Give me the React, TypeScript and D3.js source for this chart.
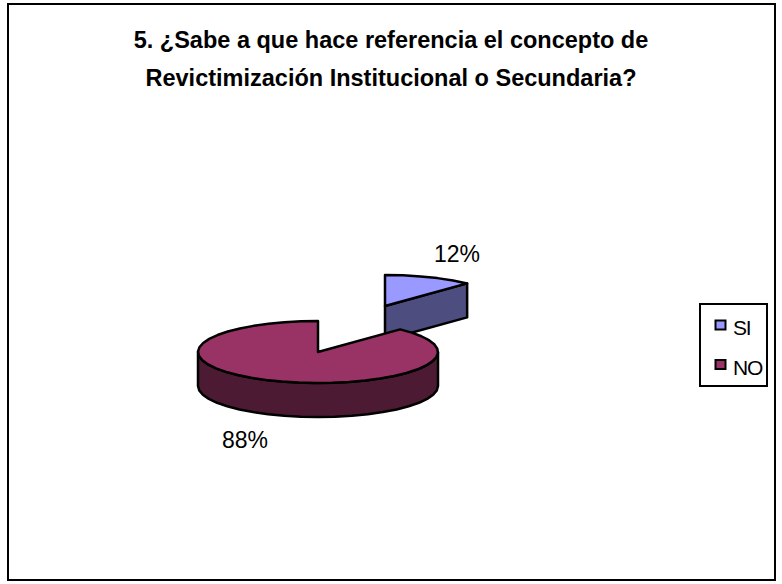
import React from "react";
import * as d3 from "d3";

const categories = ["SI", "NO"];
const values = [12, 88];
const labels = ["12%", "88%"];
const topColors = ["#9999FF", "#993366"];
const sideColors = ["#4D4D80", "#4D1A33"];
const titleLines = [
  "5. ¿Sabe a que hace referencia el concepto de",
  "Revictimización Institucional o Secundaria?",
];

const W = 782;
const H = 584;
const FONT = "'Liberation Sans', Arial, sans-serif";
const RX = 120;
const RY = 31;
const DEPTH = 34;
const centers = [
  { x: 385, y: 306 },
  { x: 318, y: 352 },
];

const pieGen = d3
  .pie<number>()
  .sort(null)
  .value((d) => d);

function ellipsePts(cx: number, cy: number, a0: number, a1: number): [number, number][] {
  const sx = d3.scaleLinear().domain([-1, 1]).range([cx - RX, cx + RX]);
  const sy = d3.scaleLinear().domain([-1, 1]).range([cy - RY, cy + RY]);
  const n = Math.max(2, Math.round(Math.abs(a1 - a0) / 0.14));
  return d3.range(n + 1).map((i) => {
    const a = a0 + ((a1 - a0) * i) / n;
    return [sx(Math.sin(a)), sy(-Math.cos(a))] as [number, number];
  });
}

const closed = d3.line().curve(d3.curveLinearClosed);

export default function App() {
  const arcs = pieGen(values);
  const strokeProps = { stroke: "#000", strokeWidth: 2.5, strokeLinejoin: "round" as const };

  const slices = arcs.map((arc, i) => {
    const c = centers[i];
    const top = [[c.x, c.y] as [number, number], ...ellipsePts(c.x, c.y, arc.startAngle, arc.endAngle)];
    const a0 = Math.max(arc.startAngle, i === 0 ? arc.startAngle : Math.PI / 2);
    const a1 = Math.min(arc.endAngle, i === 0 ? arc.endAngle : (3 * Math.PI) / 2);
    let side: [number, number][];
    if (i === 0) {
      // cut face of the separated slice, from the centre to its outer edge
      const edge = ellipsePts(c.x, c.y, arc.endAngle, arc.endAngle)[0];
      const start: [number, number] = [c.x, c.y];
      side = [start, edge, [edge[0], edge[1] + DEPTH], [start[0], start[1] + DEPTH]];
    } else {
      const rim = ellipsePts(c.x, c.y, a0, a1);
      side = [...rim, ...rim.slice().reverse().map((p) => [p[0], p[1] + DEPTH] as [number, number])];
    }
    return { top, side };
  });

  return (
    <svg
      width={W}
      height={H}
      viewBox={`0 0 ${W} ${H}`}
      style={{ position: "absolute", left: 0, top: 0, background: "#fff" }}
    >
      <rect x={8} y={4} width={767} height={576} fill="#fff" stroke="#000" strokeWidth={2} />

      <g fontFamily={FONT} fontWeight="bold" fontSize={23.5} textAnchor="middle" fill="#000">
        {titleLines.map((t, i) => (
          <text key={t} x={391} y={48 + i * 38}>
            {t}
          </text>
        ))}
      </g>

      {slices.map((s, i) => (
        <g key={categories[i]}>
          <path d={closed(s.side) ?? ""} fill={sideColors[i]} {...strokeProps} />
          <path d={closed(s.top) ?? ""} fill={topColors[i]} {...strokeProps} />
        </g>
      ))}

      <g fontFamily={FONT} fontSize={23} fill="#000" textAnchor="middle">
        <text x={457} y={262}>{labels[0]}</text>
        <text x={245} y={448}>{labels[1]}</text>
      </g>

      <rect x={700} y={304} width={67} height={82} fill="#fff" stroke="#000" strokeWidth={2} />
      {categories.map((c, i) => (
        <g key={c}>
          <rect x={715.5} y={320.5 + i * 39.5} width={10} height={9} fill={topColors[i]} stroke="#000" strokeWidth={2} />
          <text x={733} y={335 + i * 40} fontFamily={FONT} fontSize={21} letterSpacing={-1.2} fill="#000">
            {c}
          </text>
        </g>
      ))}
    </svg>
  );
}
